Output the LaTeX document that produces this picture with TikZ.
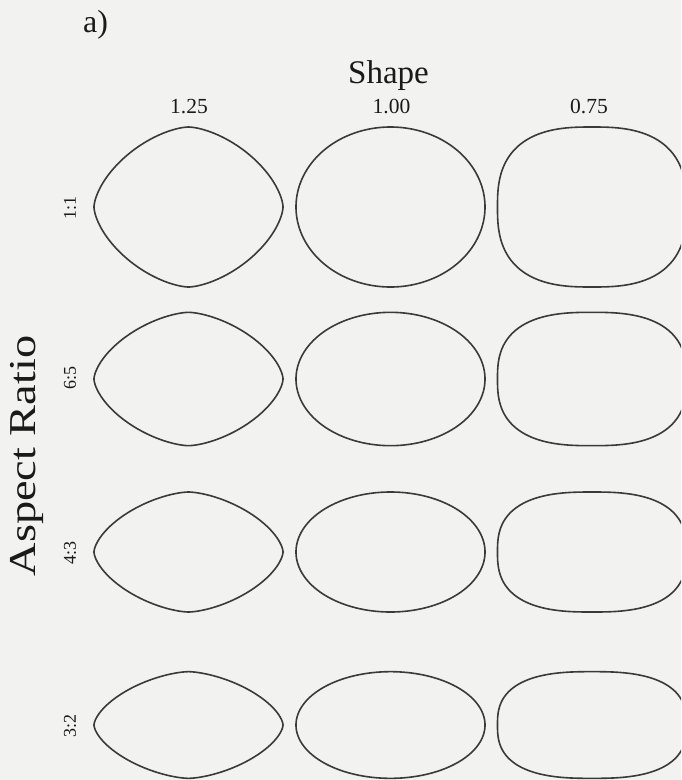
\documentclass[tikz,border=0pt]{standalone}
\usepackage{fontspec}
\setmainfont{Liberation Serif}
\usepackage{tikz}
\usetikzlibrary{positioning}
\definecolor{bggray}{HTML}{F2F2F0}
\definecolor{lgray}{HTML}{3A3A3A}
\definecolor{tblack}{HTML}{1A1A1A}

\begin{document}
\begin{tikzpicture}[x=1pt, y=-1pt,
    outline/.style={draw=lgray, line width=1.6pt},
    collabel/.style={font=\fontsize{21.5}{22}\selectfont, text=tblack, anchor=base},
    rowlabel/.style={font=\fontsize{18}{19}\selectfont, text=tblack, rotate=90},
]
\fill[bggray] (0,0) rectangle (681,780);
\useasboundingbox (0,0) rectangle (681,780);
\clip (0,0) rectangle (681,780);

\node[font=\fontsize{32}{34}\selectfont, text=tblack, anchor=base] (panel) at (95.5,32) {a)};
\node[font=\fontsize{33}{35}\selectfont, text=tblack, anchor=base] (shapetitle) at (388.5,83) {Shape};
\node[collabel] (s125) at (189,113) {1.25};
\node[collabel] (s100) at (391.5,113) {1.00};
\node[collabel] (s075) at (589,113) {0.75};

\node[font=\fontsize{38}{40}\selectfont, text=tblack, rotate=90] (ratiotitle) at (27,456) {\scalebox{1.22}[1]{Aspect Ratio}};
\node[rowlabel] (r11) at (70,208) {1:1};
\node[rowlabel] (r65) at (70,378) {6:5};
\node[rowlabel] (r43) at (70,553) {4:3};
\node[rowlabel] (r32) at (70,726) {3:2};

% superellipse outlines, x = a|cos t|^s, y = b|sin t|^s
\foreach \cx/\s in {188.5/1.25, 390.5/1.00, 592/0.75}
  \foreach \cy/\ry in {207/80, 379/66.67, 552/60, 725/53.33}
    \draw[outline] plot[domain=0:360, samples=361, variable=\t]
      ({\cx + 94.5*sign(cos(\t))*max(abs(cos(\t)),0.0001)^\s},
       {\cy + \ry*sign(sin(\t))*max(abs(sin(\t)),0.0001)^\s}) -- cycle;
\end{tikzpicture}
\end{document}
